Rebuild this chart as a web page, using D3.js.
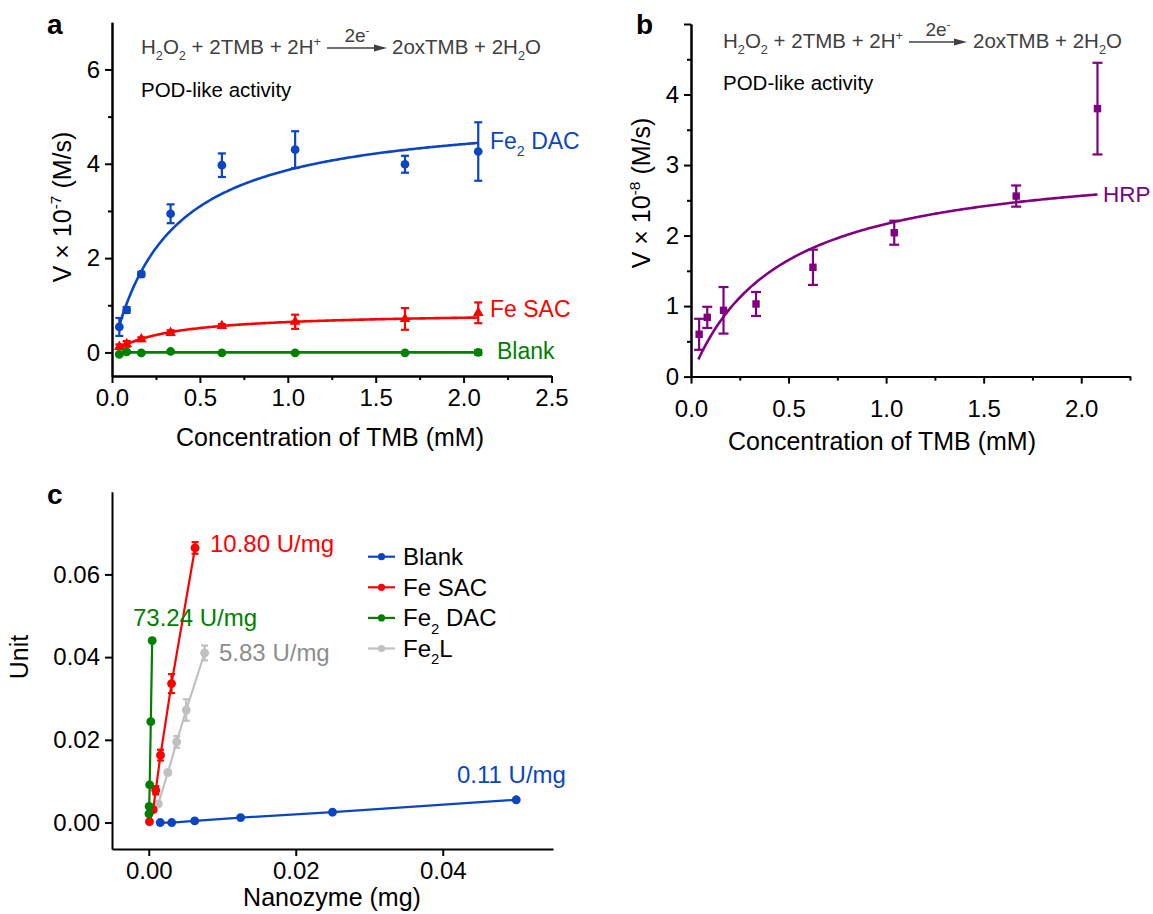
<!DOCTYPE html>
<html>
<head>
<meta charset="utf-8">
<script src="https://cdn.jsdelivr.net/npm/d3@7"></script>
<style>
  body { margin: 0; background: #fff; }
  svg text { font-family: "Liberation Sans", Arial, sans-serif; white-space: pre; }
</style>
</head>
<body>
<svg id="fig" width="1153" height="914"></svg>
<script>
// ---------- panel a / b : TMB concentration (mM) ----------
var tmb = [0.0417, 0.0833, 0.1667, 0.3333, 0.625, 1.0417, 1.6667, 2.0833];

var dacV   = [0.54, 0.90, 1.66, 2.94, 3.97, 4.30, 3.99, 4.26];
var dacErr = [0.19, 0.06, 0.05, 0.20, 0.25, 0.39, 0.18, 0.62];
var sacV   = [0.12, 0.18, 0.28, 0.42, 0.56, 0.65, 0.71, 0.84];
var sacErr = [0.05, 0.06, 0.04, 0.05, 0.04, 0.15, 0.23, 0.22];
var blankV   = [-0.04, 0.01, -0.01, 0.02, -0.01, -0.01, -0.01, 0.0];
var blankErr = [0.02, 0.02, 0.02, 0.02, 0.02, 0.02, 0.02, 0.05];

var hrpV   = [0.60, 0.84, 0.94, 1.03, 1.55, 2.04, 2.56, 3.80];
var hrpErr = [0.22, 0.15, 0.33, 0.17, 0.25, 0.17, 0.15, 0.65];

// Michaelis-Menten fits [Vmax, Km]
var dacFit   = [5.15, 0.332];
var sacFit   = [0.857, 0.33];
var blankFit = [0, 0.33];
var hrpFit   = [3.14, 0.45];

// ---------- panel c : nanozyme (mg) vs unit ----------
var blankMg  = [0.0015625, 0.003125, 0.00625, 0.0125, 0.025, 0.05];
var blankU   = [0.0, 0.0, 0.0004, 0.0012, 0.0025, 0.0055];
var blankUe  = [0.0002, 0.0002, 0.0002, 0.0002, 0.0004, 0.0003];
var sacMg    = [0.0001, 0.0006, 0.00095, 0.0016, 0.0031, 0.0063];
var sacU     = [0.0002, 0.0031, 0.0078, 0.0163, 0.0336, 0.0664];
var sacUe    = [0.0003, 0.0004, 0.0010, 0.0013, 0.0023, 0.0014];
var dacMg    = [0.00003, 0.00006, 0.00013, 0.00028, 0.00047];
var dacU     = [0.0021, 0.0039, 0.0091, 0.0244, 0.0440];
var dacUe    = [0.0002, 0.0002, 0.0003, 0.0003, 0.0003];
var fe2lMg   = [0.0013, 0.0026, 0.0038, 0.0051, 0.0076];
var fe2lU    = [0.0045, 0.0121, 0.0195, 0.0272, 0.0410];
var fe2lUe   = [0.0004, 0.0005, 0.0014, 0.0026, 0.0018];

var blue = "#0b45c2", red = "#ff0000", green = "#008000", purple = "#800080",
    grey = "#c0c0c0", greyText = "#8c8c8c";

var svg = d3.select("#fig");

function pts(xs, ys, es) {
  return xs.map(function(x, i) { return {x: x, y: ys[i], e: es ? es[i] : 0}; });
}

// rich text with sub/superscripts, parts = [[text, "sub"|"sup"|""], ...]
function rich(sel, parts, fs) {
  var cur = 0;
  parts.forEach(function(p) {
    var off = p[1] === "sub" ? fs * 0.3 : p[1] === "sup" ? -fs * 0.4 : 0;
    sel.append("tspan")
      .attr("dy", off - cur)
      .attr("font-size", p[1] ? fs * 0.62 : fs)
      .text(p[0]);
    cur = off;
  });
  return sel;
}

function label(x, y, parts, fs, color, anchor) {
  var t = svg.append("text").attr("x", x).attr("y", y)
    .attr("fill", color || "#000").attr("text-anchor", anchor || "start");
  return rich(t, parts, fs);
}

function styleAxis(g) {
  g.select(".domain").attr("stroke", "#000").attr("stroke-width", 2);
  g.selectAll(".tick line").attr("stroke", "#000").attr("stroke-width", 2);
  g.selectAll(".tick text").attr("font-size", 24).attr("fill", "#000")
    .attr("font-family", "'Liberation Sans', Arial, sans-serif");
}

function drawAxes(x, y, o) {
  var yb = y.range()[0], xl = x.range()[0];
  if (o.xMinor) {
    svg.append("g").attr("transform", "translate(0," + yb + ")")
      .call(d3.axisBottom(x).tickValues(o.xMinor).tickSize(4).tickSizeOuter(0).tickFormat(""))
      .call(styleAxis);
  }
  if (o.yMinor) {
    svg.append("g").attr("transform", "translate(" + xl + ",0)")
      .call(d3.axisLeft(y).tickValues(o.yMinor).tickSize(4).tickSizeOuter(0).tickFormat(""))
      .call(styleAxis);
  }
  svg.append("g").attr("transform", "translate(0," + yb + ")")
    .call(d3.axisBottom(x).tickValues(o.xTicks).tickSize(7).tickSizeOuter(0)
      .tickPadding(o.xPad).tickFormat(o.xFmt))
    .call(styleAxis);
  svg.append("g").attr("transform", "translate(" + xl + ",0)")
    .call(d3.axisLeft(y).tickValues(o.yTicks).tickSize(7).tickSizeOuter(0)
      .tickPadding(5).tickFormat(o.yFmt))
    .call(styleAxis);
}

function errorBars(x, y, data, color, cap) {
  var g = svg.append("g").attr("stroke", color).attr("stroke-width", 2.2);
  data.forEach(function(d) {
    if (!d.e) return;
    var cx = x(d.x), y0 = y(d.y - d.e), y1 = y(d.y + d.e);
    g.append("line").attr("x1", cx).attr("x2", cx).attr("y1", y0).attr("y2", y1);
    g.append("line").attr("x1", cx - cap).attr("x2", cx + cap).attr("y1", y0).attr("y2", y0);
    g.append("line").attr("x1", cx - cap).attr("x2", cx + cap).attr("y1", y1).attr("y2", y1);
  });
}

function markers(x, y, data, color, type, size) {
  svg.append("g").selectAll("path").data(data).join("path")
    .attr("transform", function(d) { return "translate(" + x(d.x) + "," + y(d.y) + ")"; })
    .attr("d", d3.symbol(type, size))
    .attr("fill", color);
}

function mmCurve(x, y, fit, x0, x1, color) {
  var xs = d3.range(0, 201).map(function(i) { return x0 + (x1 - x0) * i / 200; });
  svg.append("path")
    .attr("d", d3.line()
      .x(function(v) { return x(v); })
      .y(function(v) { return y(fit[0] * v / (fit[1] + v)); })(xs))
    .attr("fill", "none").attr("stroke", color).attr("stroke-width", 2.6);
}

function equation(x, y, ax0, ax1, x2) {
  label(x, y, [["H", ""], ["2", "sub"], ["O", ""], ["2", "sub"], [" + 2TMB + 2H", ""], ["+", "sup"]], 20.5, "#404040");
  label(x2, y, [["2oxTMB + 2H", ""], ["2", "sub"], ["O", ""]], 20.5, "#404040");
  svg.append("line").attr("x1", ax0).attr("x2", ax1 - 8).attr("y1", y - 6).attr("y2", y - 6)
    .attr("stroke", "#404040").attr("stroke-width", 1.5);
  svg.append("path")
    .attr("d", "M" + (ax1 - 13) + "," + (y - 9.5) + "L" + ax1 + "," + (y - 6) + "L" + (ax1 - 13) + "," + (y - 2.5) + "Z")
    .attr("fill", "#404040");
  label((ax0 + ax1) / 2, y - 12, [["2e", ""], ["-", "sup"]], 19, "#404040", "middle");
}

var fmt1 = d3.format(".1f"), fmt0 = d3.format("d"), fmt2 = d3.format(".2f");

// ================= panel a =================
var xa = d3.scaleLinear().domain([0, 2.5]).range([112, 551.5]);
var ya = d3.scaleLinear().domain([-0.5, 7]).range([376, 22.3]);

drawAxes(xa, ya, {
  xTicks: [0, 0.5, 1, 1.5, 2, 2.5], xMinor: [0.25, 0.75, 1.25, 1.75, 2.25], xFmt: fmt1, xPad: 6,
  yTicks: [0, 2, 4, 6], yMinor: [1, 3, 5], yFmt: fmt0
});

var dacPts = pts(tmb, dacV, dacErr), sacPts = pts(tmb, sacV, sacErr), blankPts = pts(tmb, blankV, blankErr);
mmCurve(xa, ya, blankFit, tmb[0], tmb[tmb.length - 1], green);
mmCurve(xa, ya, sacFit, tmb[0], tmb[tmb.length - 1], red);
mmCurve(xa, ya, dacFit, tmb[0], tmb[tmb.length - 1], blue);
errorBars(xa, ya, blankPts, green, 4);
errorBars(xa, ya, sacPts, red, 4);
errorBars(xa, ya, dacPts, blue, 4);
markers(xa, ya, blankPts, green, d3.symbolCircle, 60);
markers(xa, ya, sacPts, red, d3.symbolTriangle, 50);
markers(xa, ya, dacPts, blue, d3.symbolCircle, 60);

label(490, 149, [["Fe", ""], ["2", "sub"], [" DAC", ""]], 23, blue);
label(490, 317, [["Fe SAC", ""]], 23, red);
label(497, 359, [["Blank", ""]], 23, green);

equation(141, 54, 327, 387, 392);
label(141, 97, [["POD-like activity", ""]], 20.5, "#000");

label(330, 446, [["Concentration of TMB (mM)", ""]], 25, "#000", "middle");
rich(svg.append("text").attr("text-anchor", "middle")
  .attr("transform", "translate(71,207) rotate(-90)"),
  [["V × 10", ""], ["-7", "sup"], [" (M/s)", ""]], 25);
svg.append("text").attr("x", 47).attr("y", 34).attr("font-size", 28).attr("font-weight", "bold").text("a");

// ================= panel b =================
var xb = d3.scaleLinear().domain([0, 2.25]).range([691, 1130]);
var yb = d3.scaleLinear().domain([0, 5]).range([376.6, 24]);

drawAxes(xb, yb, {
  xTicks: [0, 0.5, 1, 1.5, 2], xMinor: [0.25, 0.75, 1.25, 1.75, 2.25], xFmt: fmt1, xPad: 16,
  yTicks: [0, 1, 2, 3, 4, 5], yMinor: [0.5, 1.5, 2.5, 3.5, 4.5], yFmt: function(v) { return v === 5 ? "" : fmt0(v); }
});

var hrpPts = pts(tmb, hrpV, hrpErr);
mmCurve(xb, yb, hrpFit, tmb[0] - 0.004, tmb[tmb.length - 1], purple);
errorBars(xb, yb, hrpPts, purple, 5);
markers(xb, yb, hrpPts, purple, d3.symbolSquare, 55);

label(1103, 202, [["HRP", ""]], 22.5, purple);
equation(723, 48, 909, 967, 973);
label(723, 90, [["POD-like activity", ""]], 20.5, "#000");

label(882, 450, [["Concentration of TMB (mM)", ""]], 25, "#000", "middle");
rich(svg.append("text").attr("text-anchor", "middle")
  .attr("transform", "translate(650,193) rotate(-90)"),
  [["V × 10", ""], ["-8", "sup"], [" (M/s)", ""]], 25);
svg.append("text").attr("x", 636).attr("y", 34).attr("font-size", 28).attr("font-weight", "bold").text("b");

// ================= panel c =================
var xc = d3.scaleLinear().domain([-0.005, 0.055]).range([112, 553]);
var yc = d3.scaleLinear().domain([-0.0064, 0.08]).range([849, 491.7]);

drawAxes(xc, yc, {
  xTicks: [0, 0.02, 0.04], xFmt: fmt2, xPad: 6,
  yTicks: [0, 0.02, 0.04, 0.06], yFmt: fmt2
});

var series = [
  {p: pts(blankMg, blankU, blankUe), c: blue},
  {p: pts(fe2lMg, fe2lU, fe2lUe), c: grey},
  {p: pts(sacMg, sacU, sacUe), c: red},
  {p: pts(dacMg, dacU, dacUe), c: green}
];
series.forEach(function(s) {
  svg.append("path")
    .attr("d", d3.line().x(function(d) { return xc(d.x); }).y(function(d) { return yc(d.y); })(s.p))
    .attr("fill", "none").attr("stroke", s.c).attr("stroke-width", 2.2);
  errorBars(xc, yc, s.p, s.c, 3.5);
  markers(xc, yc, s.p, s.c, d3.symbolCircle, 62);
});

label(210, 552, [["10.80 U/mg", ""]], 24, red);
label(133, 626, [["73.24 U/mg", ""]], 24, green);
label(219, 661, [["5.83 U/mg", ""]], 24, greyText);
label(457, 783, [["0.11 U/mg", ""]], 24, blue);

// legend
var legend = [
  {c: blue, t: [["Blank", ""]]},
  {c: red, t: [["Fe SAC", ""]]},
  {c: green, t: [["Fe", ""], ["2", "sub"], [" DAC", ""]]},
  {c: grey, t: [["Fe", ""], ["2", "sub"], ["L", ""]]}
];
legend.forEach(function(l, i) {
  var cy = 556.7 + i * 30.6;
  svg.append("line").attr("x1", 368).attr("x2", 395).attr("y1", cy).attr("y2", cy)
    .attr("stroke", l.c).attr("stroke-width", 2.2);
  svg.append("circle").attr("cx", 381.5).attr("cy", cy).attr("r", 3.6).attr("fill", l.c);
  label(403, cy + 8.5, l.t, 24, "#000");
});

label(332, 906, [["Nanozyme (mg)", ""]], 25, "#000", "middle");
svg.append("text").attr("text-anchor", "middle")
  .attr("transform", "translate(28,657) rotate(-90)")
  .attr("font-size", 25).text("Unit");
svg.append("text").attr("x", 47).attr("y", 504).attr("font-size", 28).attr("font-weight", "bold").text("c");
</script>
</body>
</html>
